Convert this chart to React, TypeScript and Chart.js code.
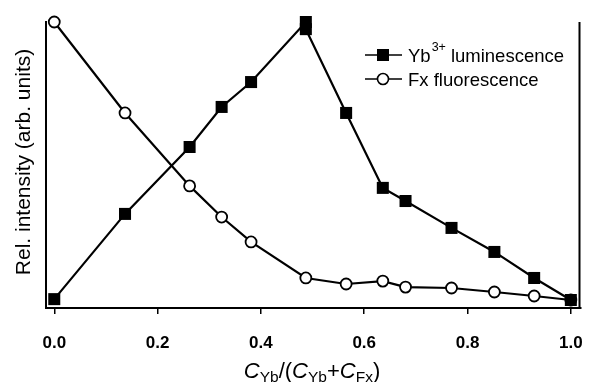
import React, { useEffect, useRef } from "react";
import { Chart, registerables } from "chart.js";

Chart.register(...registerables);

// ---- data ----
const ybX = [0.0, 0.137, 0.262, 0.324, 0.381, 0.487, 0.487, 0.565, 0.636, 0.68, 0.769, 0.852, 0.929, 1.0];
const ybY = [0.031, 0.329, 0.563, 0.703, 0.79, 1.0, 0.975, 0.682, 0.42, 0.374, 0.28, 0.196, 0.105, 0.028];
const fxX = [0.0, 0.137, 0.262, 0.324, 0.381, 0.487, 0.565, 0.636, 0.68, 0.769, 0.852, 0.929, 1.0];
const fxY = [1.0, 0.682, 0.427, 0.318, 0.231, 0.105, 0.084, 0.094, 0.073, 0.07, 0.056, 0.042, 0.028];
const xTicks = [0.0, 0.2, 0.4, 0.6, 0.8, 1.0];
const seriesNames = ["Yb", "Fx fluorescence"];

const FONT = "'Liberation Sans', Arial, Helvetica, sans-serif";

const decorPlugin = {
  id: "decor",
  afterDraw(chart: any) {
    const { ctx, chartArea } = chart;
    ctx.save();
    // right frame line
    ctx.strokeStyle = "#000";
    ctx.lineWidth = 2;
    ctx.beginPath();
    ctx.moveTo(chartArea.right - 1, chartArea.top);
    ctx.lineTo(chartArea.right - 1, chartArea.bottom);
    ctx.stroke();

    // y title
    ctx.save();
    ctx.translate(24, 162);
    ctx.rotate(-Math.PI / 2);
    ctx.fillStyle = "#000";
    ctx.font = `21px ${FONT}`;
    ctx.textAlign = "center";
    ctx.textBaseline = "middle";
    ctx.fillText("Rel. intensity (arb. units)", 0, 0);
    ctx.restore();

    // x title: C_Yb/(C_Yb+C_Fx)
    const parts: [string, string][] = [
      ["C", "it"], ["Yb", "sub"], ["/(", "n"], ["C", "it"], ["Yb", "sub"],
      ["+", "n"], ["C", "it"], ["Fx", "sub"], [")", "n"],
    ];
    const fontFor = (k: string) =>
      k === "it" ? `italic 22px ${FONT}` : k === "sub" ? `15.5px ${FONT}` : `22px ${FONT}`;
    let total = 0;
    for (const [t, k] of parts) {
      ctx.font = fontFor(k);
      total += ctx.measureText(t).width;
    }
    let x = 312 - total / 2;
    const base = 378;
    ctx.textAlign = "left";
    ctx.textBaseline = "alphabetic";
    ctx.fillStyle = "#000";
    for (const [t, k] of parts) {
      ctx.font = fontFor(k);
      ctx.fillText(t, x, k === "sub" ? base + 4 : base);
      x += ctx.measureText(t).width;
    }

    // legend
    const lx0 = 365, lx1 = 402, mx = 383;
    const rows = [55, 79];
    ctx.lineWidth = 1.5;
    ctx.strokeStyle = "#000";
    rows.forEach((y) => {
      ctx.beginPath();
      ctx.moveTo(lx0, y);
      ctx.lineTo(lx1, y);
      ctx.stroke();
    });
    ctx.fillStyle = "#000";
    ctx.fillRect(mx - 6, rows[0] - 6, 12, 12);
    ctx.beginPath();
    ctx.arc(mx, rows[1], 5.5, 0, Math.PI * 2);
    ctx.fillStyle = "#fff";
    ctx.fill();
    ctx.lineWidth = 1.6;
    ctx.stroke();

    ctx.fillStyle = "#000";
    ctx.textBaseline = "alphabetic";
    ctx.font = `18.5px ${FONT}`;
    let tx = 408;
    ctx.fillText(seriesNames[0], tx, rows[0] + 7);
    tx += ctx.measureText(seriesNames[0]).width + 1;
    ctx.font = `12.5px ${FONT}`;
    ctx.fillText("3+", tx, rows[0] - 4);
    tx += ctx.measureText("3+").width + 5;
    ctx.font = `18.5px ${FONT}`;
    ctx.fillText("luminescence", tx, rows[0] + 7);
    ctx.fillText(seriesNames[1], 408, rows[1] + 7);
    ctx.restore();
  },
};

export default function App() {
  const ref = useRef<HTMLCanvasElement | null>(null);
  useEffect(() => {
    if (!ref.current) return;
    const chart = new Chart(ref.current, {
      type: "line",
      data: {
        datasets: [
          {
            label: "Yb3+ luminescence",
            data: ybX.map((x, i) => ({ x, y: ybY[i] })),
            borderColor: "#000",
            borderWidth: 2.2,
            backgroundColor: "#000",
            pointStyle: "rect",
            pointRadius: 8.5,
            pointBorderWidth: 0,
            pointBackgroundColor: "#000",
            tension: 0,
            clip: false as any,
          },
          {
            label: "Fx fluorescence",
            data: fxX.map((x, i) => ({ x, y: fxY[i] })),
            borderColor: "#000",
            borderWidth: 2.2,
            pointStyle: "circle",
            pointRadius: 5.5,
            pointBorderWidth: 1.8,
            pointBackgroundColor: "#fff",
            pointBorderColor: "#000",
            tension: 0,
            clip: false as any,
          },
        ],
      },
      options: {
        animation: false,
        responsive: false,
        devicePixelRatio: 1,
        layout: { padding: { top: 22, right: 6, left: 0, bottom: 0 } },
        plugins: { legend: { display: false }, tooltip: { enabled: false } },
        scales: {
          x: {
            type: "linear",
            min: -0.016,
            max: 1.0187,
            afterBuildTicks: (s: any) => {
              s.ticks = xTicks.map((v) => ({ value: v }));
            },
            afterFit: (s: any) => {
              s.height = 74;
              s.paddingLeft = 0;
              s.paddingRight = 0;
            },
            ticks: {
              color: "#000",
              font: { family: FONT, size: 17, weight: "bold" },
              padding: 19,
              maxRotation: 0,
              autoSkip: false,
              callback: (v: any) => Number(v).toFixed(1),
            },
            grid: {
              display: true,
              drawOnChartArea: false,
              drawTicks: true,
              tickLength: 6,
              color: "#000",
              lineWidth: 1.5,
            },
            border: { display: true, color: "#000", width: 2 },
          },
          y: {
            type: "linear",
            min: 0,
            max: 1,
            afterFit: (s: any) => {
              s.width = 46;
            },
            ticks: { display: false },
            grid: { display: false },
            border: { display: true, color: "#000", width: 2 },
          },
        },
      },
      plugins: [decorPlugin],
    });
    return () => chart.destroy();
  }, []);
  return (
    <div style={{ position: "fixed", left: 0, top: 0, width: 589, height: 382, background: "#fff" }}>
      <canvas ref={ref} width={589} height={382} style={{ width: 589, height: 382, display: "block" }} />
    </div>
  );
}
